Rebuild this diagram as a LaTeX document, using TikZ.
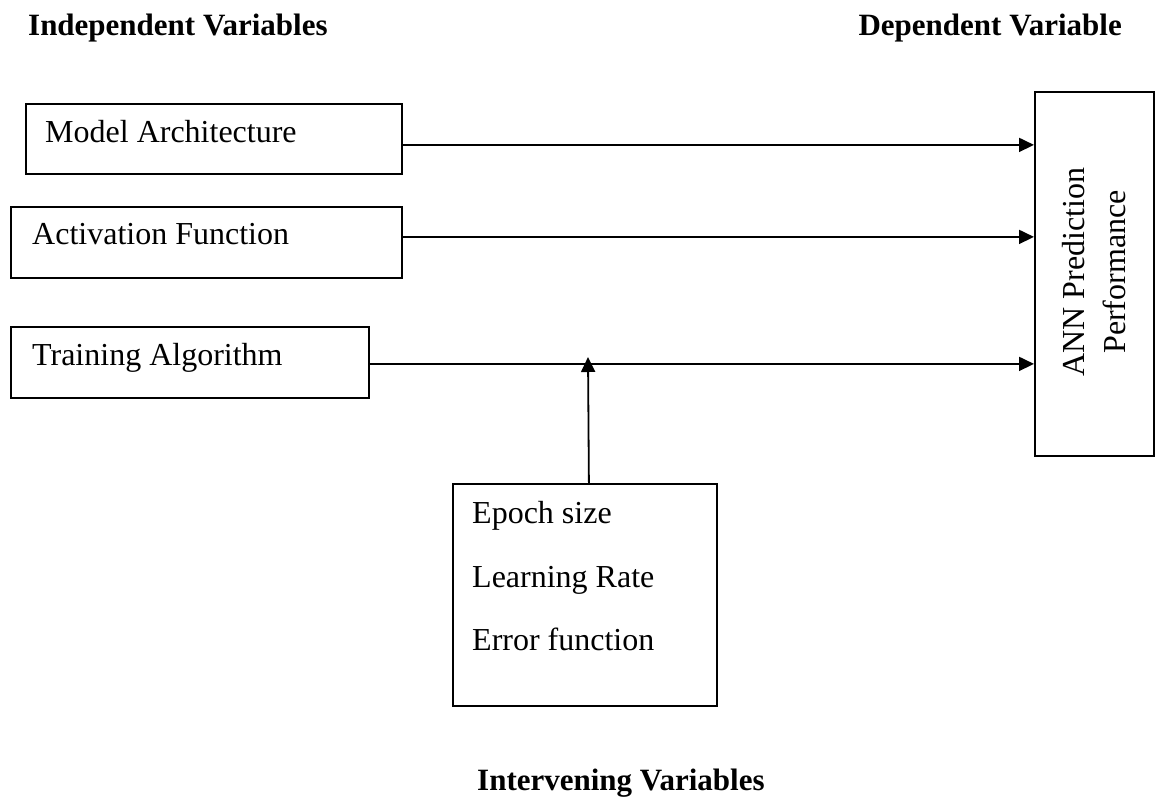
\documentclass[tikz,border=0pt]{standalone}
\usepackage{fontspec}
\setmainfont{Liberation Serif}
\usetikzlibrary{arrows.meta}
\begin{document}
\begin{tikzpicture}[x=1pt,y=-1pt,
  box/.style={draw=black,line width=1.8pt,inner sep=0pt,anchor=north west},
  txt/.style={inner sep=0pt,anchor=base west,font=\fontsize{32}{40}\selectfont},
  head/.style={inner sep=0pt,font=\fontsize{31}{36}\selectfont\bfseries},
  arr/.style={line width=1.8pt,-{Triangle[length=15pt,width=14pt]}}]
\useasboundingbox (0,0) rectangle (1159,798);
% headings
\node[head,anchor=base west] (hind) at (28,35) {Independent Variables};
\node[head,anchor=base east] (hdep) at (1122,35) {Dependent Variable};
\node[head,anchor=base west] (hint) at (477,790) {Intervening Variables};
% independent variable boxes
\node[box,minimum width=376pt,minimum height=70pt] (ma) at (25,103) {};
\node[txt] (maT) at (45,142) {Model Architecture};
\node[box,minimum width=391pt,minimum height=71pt] (af) at (10,206) {};
\node[txt] (afT) at (32,244) {Activation Function};
\node[box,minimum width=358pt,minimum height=71pt] (ta) at (10,326) {};
\node[txt] (taT) at (32,365) {Training Algorithm};
% dependent variable box
\node[box,minimum width=119pt,minimum height=364pt] (ann) at (1034,91) {};
\node[inner sep=0pt,rotate=90,align=center,font=\fontsize{32}{41}\selectfont] (annT) at (1094,272) {ANN Prediction\\Performance};
% intervening variables box
\node[box,minimum width=264pt,minimum height=222pt] (eb) at (452,483) {};
\node[txt] (e1) at (472,523) {Epoch size};
\node[txt] (e2) at (472,587) {Learning Rate};
\node[txt] (e3) at (472,650) {Error function};
% connectors
\draw[arr] ([yshift=-6pt]ma.east) -- ([yshift=-6pt]ma.east -| ann.west);
\draw[arr] ([yshift=5.5pt]af.east) -- ([yshift=5.5pt]af.east -| ann.west);
\draw[arr] ([yshift=-1.5pt]ta.east) -- ([yshift=-1.5pt]ta.east -| ann.west);
\coordinate (meet) at (588,357);
\draw[arr] ([xshift=4pt]eb.north) -- (meet);
\end{tikzpicture}
\end{document}
